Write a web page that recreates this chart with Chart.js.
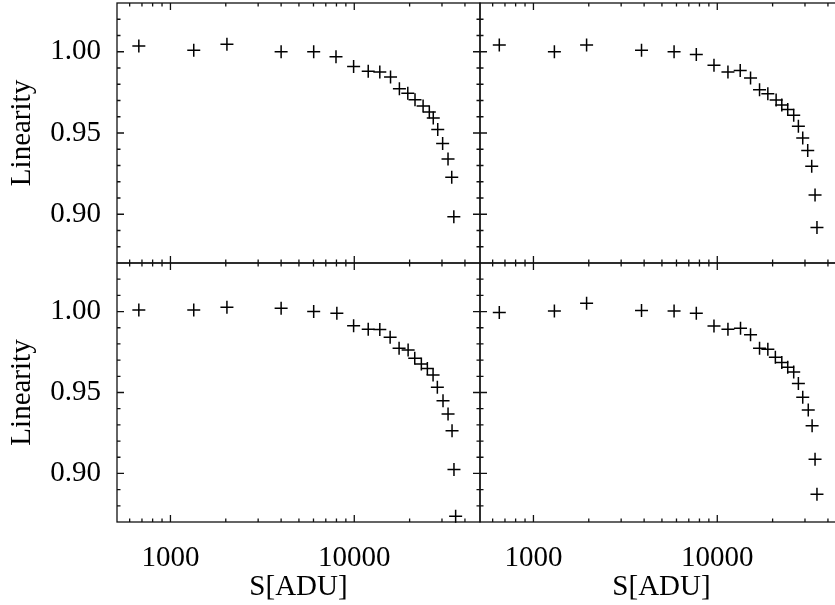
<!DOCTYPE html>
<html><head><meta charset="utf-8">
<script src="https://cdn.jsdelivr.net/npm/chart.js@4.4.1/dist/chart.umd.min.js"></script>
<style>
html,body{margin:0;padding:0;background:#fff;overflow:hidden;width:835px;height:605px;position:relative;}
canvas{position:absolute;}
</style></head><body>
<canvas id="tl" width="488" height="276" style="left:0;top:-5px"></canvas>
<canvas id="tr" width="379" height="276" style="left:472px;top:-5px"></canvas>
<canvas id="bl" width="488" height="350" style="left:0;top:255px"></canvas>
<canvas id="br" width="379" height="350" style="left:472px;top:255px"></canvas>
<script>
// ---- data (S in ADU, linearity) ----
const sTopLeft = [673, 1339, 2029, 4000, 6015, 7954, 9918, 11910, 13770, 15750, 17600, 19550, 21400, 23680, 25600, 26900, 28450, 30250, 32360, 33900, 34800];
const linTopLeft = [1.0035, 1.0010, 1.0046, 1.0000, 1.0000, 0.9969, 0.9909, 0.9880, 0.9876, 0.9844, 0.9772, 0.9744, 0.9705, 0.9666, 0.9630, 0.9592, 0.9522, 0.9435, 0.9340, 0.9228, 0.8984];

const sTopRight = [652, 1300, 1946, 3872, 5821, 7690, 9596, 11430, 13330, 15170, 16980, 18840, 20900, 22440, 24170, 26050, 27620, 29170, 31050, 32640, 34030, 34860];
const linTopRight = [1.0041, 1.0000, 1.0041, 1.0010, 1.0000, 0.9983, 0.9917, 0.9876, 0.9884, 0.9838, 0.9766, 0.9741, 0.9703, 0.9672, 0.9645, 0.9610, 0.9541, 0.9469, 0.9392, 0.9295, 0.9118, 0.8919];

const sBottomLeft = [673, 1339, 2029, 4000, 6015, 8040, 9918, 11910, 13770, 15670, 17530, 19630, 21330, 23170, 24980, 26830, 28310, 30390, 32370, 34030, 34860, 35600];
const linBottomLeft = [1.0010, 1.0010, 1.0027, 1.0021, 1.0000, 0.9990, 0.9913, 0.9891, 0.9889, 0.9841, 0.9773, 0.9763, 0.9711, 0.9676, 0.9649, 0.9608, 0.9532, 0.9449, 0.9367, 0.9264, 0.9025, 0.8736];

const sBottomRight = [652, 1300, 1946, 3872, 5821, 7690, 9596, 11430, 13380, 15170, 16980, 18840, 20700, 22440, 24170, 26050, 27620, 29170, 31260, 32800, 34030, 34860];
const linBottomRight = [0.9994, 1.0004, 1.0052, 1.0006, 1.0004, 0.9990, 0.9911, 0.9891, 0.9897, 0.9856, 0.9773, 0.9767, 0.9718, 0.9685, 0.9656, 0.9627, 0.9556, 0.9470, 0.9392, 0.9295, 0.9087, 0.8872];

// ---- axes ----
const xMajorTicks = [1000, 10000];
const xMinorTicks = [600, 700, 800, 900, 2000, 3000, 4000, 5000, 6000, 7000, 8000, 9000, 20000, 30000, 40000];
const yMajorTicks = [0.90, 0.95, 1.00];
const yMinorTicks = [0.88, 0.89, 0.91, 0.92, 0.93, 0.94, 0.96, 0.97, 0.98, 0.99, 1.01, 1.02];
const xRange = [512, 48300];
const yRange = [0.87, 1.03];
const xTitle = 'S[ADU]';
const yTitle = 'Linearity';

const FONT = {family: '"Liberation Serif", "Times New Roman", serif', size: 29};
const MAJOR = 7, MINOR = 3.5;

const framePlugin = {
  id: 'frame',
  beforeDatasetsDraw(chart) {
    const {ctx, chartArea: a, scales: {x, y}} = chart;
    ctx.save();
    ctx.strokeStyle = '#111';
    ctx.lineWidth = 1.3;
    ctx.strokeRect(a.left, a.top, a.right - a.left, a.bottom - a.top);
    ctx.beginPath();
    const xt = xMajorTicks.map(v => [v, MAJOR]).concat(xMinorTicks.map(v => [v, MINOR]));
    xt.forEach(([v, len]) => {
      const px = x.getPixelForValue(v);
      ctx.moveTo(px, a.bottom); ctx.lineTo(px, a.bottom - len);
      ctx.moveTo(px, a.top); ctx.lineTo(px, a.top + len);
    });
    const yt = yMajorTicks.map(v => [v, MAJOR]).concat(yMinorTicks.map(v => [v, MINOR]));
    yt.forEach(([v, len]) => {
      const py = y.getPixelForValue(v);
      ctx.moveTo(a.left, py); ctx.lineTo(a.left + len, py);
      ctx.moveTo(a.right, py); ctx.lineTo(a.right - len, py);
    });
    ctx.stroke();
    ctx.restore();
  }
};

function zeroPad(s) { s.paddingTop = 0; s.paddingBottom = 0; s.paddingLeft = 0; s.paddingRight = 0; }

function panel(id, xs, ys, showX, showY, padding) {
  new Chart(document.getElementById(id), {
    type: 'scatter',
    data: {
      datasets: [{
        data: xs.map((v, i) => ({x: v, y: ys[i]})),
        pointStyle: 'cross',
        pointRadius: 6.5,
        borderColor: '#000',
        backgroundColor: '#000',
        borderWidth: 1.5,
        showLine: false,
        clip: false
      }]
    },
    options: {
      responsive: false,
      animation: false,
      events: [],
      devicePixelRatio: 1,
      layout: {padding},
      plugins: {legend: {display: false}, tooltip: {enabled: false}},
      scales: {
        x: {
          type: 'logarithmic',
          min: xRange[0], max: xRange[1],
          display: showX,
          grid: {display: false},
          border: {display: false},
          afterBuildTicks: s => { s.ticks = xMajorTicks.map(v => ({value: v})); },
          afterFit: s => { s.height = showX ? 83 : 0; zeroPad(s); },
          ticks: {font: FONT, color: '#000', padding: 11, maxRotation: 0, autoSkip: false,
                  callback: v => String(v)},
          title: {display: true, text: xTitle, font: FONT, color: '#000', padding: {top: 0, bottom: 0}}
        },
        y: {
          type: 'linear',
          min: yRange[0], max: yRange[1],
          display: showY,
          grid: {display: false},
          border: {display: false},
          afterBuildTicks: s => { s.ticks = yMajorTicks.map(v => ({value: v})); },
          afterFit: s => { s.width = showY ? 117 : 0; zeroPad(s); },
          ticks: {font: FONT, color: '#000', padding: 8, autoSkip: false,
                  callback: v => Number(v).toFixed(2)},
          title: {display: true, text: yTitle, font: FONT, color: '#000', padding: {top: 5, bottom: 0}}
        }
      }
    },
    plugins: [framePlugin]
  });
}

// padding of 8 on sides without axes (matches the point-overflow minimum padding)
panel('tl', sTopLeft, linTopLeft, false, true, {left: 0, top: 8, right: 8, bottom: 8});
panel('tr', sTopRight, linTopRight, false, false, {left: 8, top: 8, right: 8, bottom: 8});
panel('bl', sBottomLeft, linBottomLeft, true, true, {left: 0, top: 8, right: 8, bottom: 0});
panel('br', sBottomRight, linBottomRight, true, false, {left: 8, top: 8, right: 8, bottom: 0});
</script>
</body></html>
